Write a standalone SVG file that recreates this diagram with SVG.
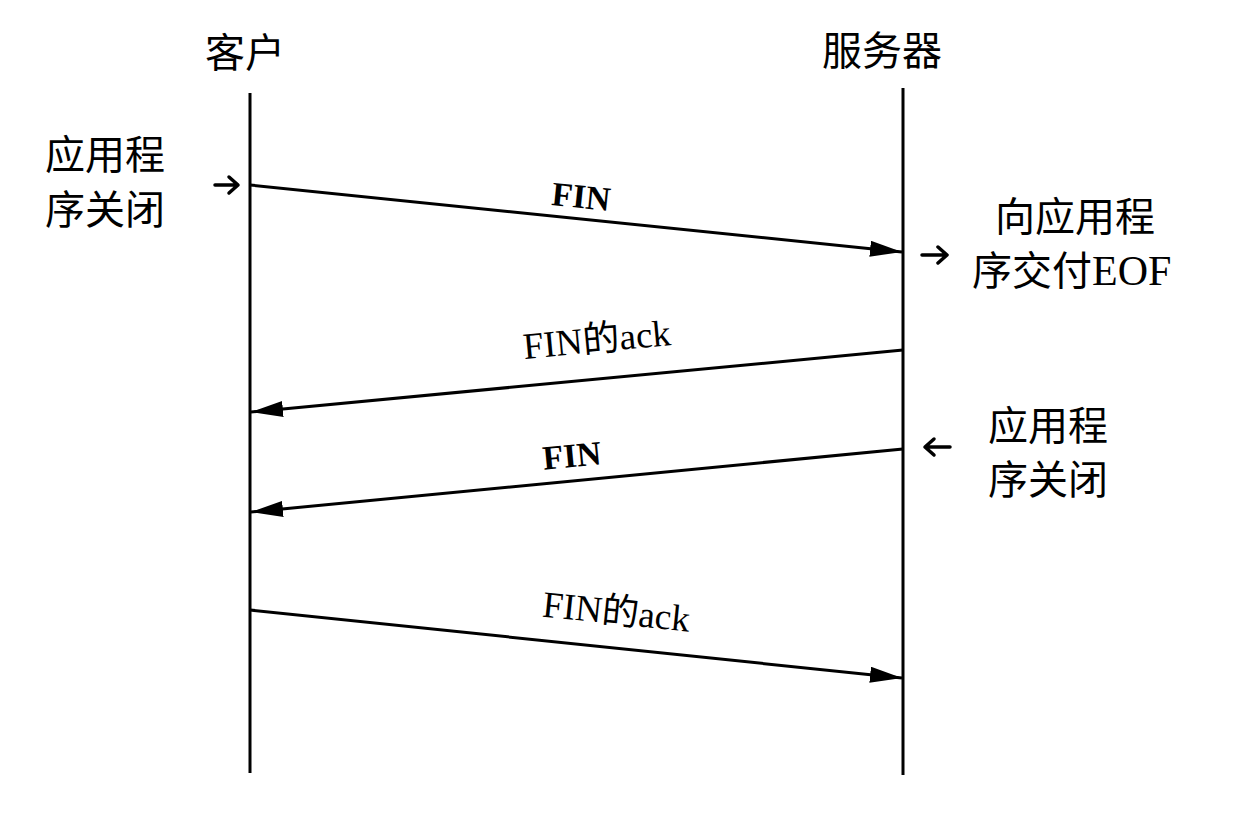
<svg xmlns="http://www.w3.org/2000/svg" width="1238" height="824" viewBox="0 0 1238 824">
<style>
.cjk{font-family:"Liberation Serif","Noto Sans CJK SC",serif;font-size:40px;fill:#000}
.lbl{font-family:"Liberation Serif","Noto Sans CJK SC",serif;font-size:37px;fill:#000}
.b{font-weight:bold;font-size:34px}
.life{stroke:#000;stroke-width:3;fill:none}
.msg{stroke:#000;stroke-width:3;fill:none;marker-end:url(#ah)}
.sm{stroke:#000;stroke-width:3.5;fill:none;stroke-linecap:round;stroke-linejoin:round}
</style>
<defs>
<marker id="ah" viewBox="0 0 32 16" refX="32" refY="8" markerWidth="32" markerHeight="16" markerUnits="userSpaceOnUse" orient="auto">
<path d="M0,0 L32,8 L0,16 Z" fill="#000"/>
</marker>
</defs>
<rect width="1238" height="824" fill="#fff"/>
<g id="client">
<text class="cjk" x="205" y="67">客户</text>
<line class="life" x1="250" y1="93" x2="250" y2="773"/>
</g>
<g id="server">
<text class="cjk" x="822" y="65">服务器</text>
<line class="life" x1="903" y1="88" x2="903" y2="775"/>
</g>
<g id="client-close">
<text class="cjk" x="45" y="169">应用程</text>
<text class="cjk" x="45" y="224">序关闭</text>
<path class="sm" d="M215,185 H237 M229,177 L238,185 L229,193"/>
</g>
<g id="server-eof">
<text class="cjk" x="995" y="231">向应用程</text>
<text class="cjk" x="972" y="285">序交付<tspan font-size="42">EOF</tspan></text>
<path class="sm" d="M922,255 H946 M938,247 L947,255 L938,263"/>
</g>
<g id="server-close">
<text class="cjk" x="988" y="440">应用程</text>
<text class="cjk" x="988" y="494">序关闭</text>
<path class="sm" d="M950,447 H926 M934,439 L925,447 L934,455"/>
</g>
<g id="connectors">
<line class="msg" x1="250" y1="185" x2="902" y2="252"/>
<line class="msg" x1="903" y1="350" x2="251" y2="412"/>
<line class="msg" x1="903" y1="449" x2="251" y2="512"/>
<line class="msg" x1="250" y1="610" x2="902" y2="678"/>
</g>
<g id="labels">
<text class="lbl b" text-anchor="middle" transform="translate(580,208) rotate(5.9)">FIN</text>
<text class="lbl" text-anchor="middle" transform="translate(598,352) rotate(-5.4)">FIN的ack</text>
<text class="lbl b" text-anchor="middle" transform="translate(573,467) rotate(-5.5)">FIN</text>
<text class="lbl" text-anchor="middle" transform="translate(615,624) rotate(5.9)">FIN的ack</text>
</g>
</svg>
